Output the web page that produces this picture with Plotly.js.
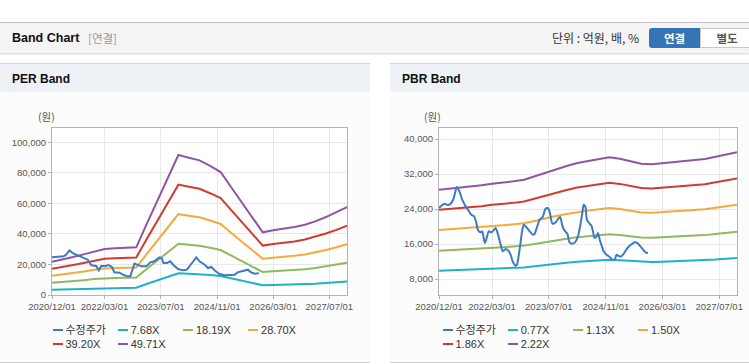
<!DOCTYPE html>
<html><head><meta charset="utf-8">
<script src="https://cdn.plot.ly/plotly-3.0.1.min.js"></script>
<style>
body{margin:0;width:749px;height:364px;overflow:hidden;background:#fff;position:relative;font-family:"Liberation Sans","Noto Sans CJK KR",sans-serif;}
#hdr{position:absolute;left:0;top:22px;width:749px;height:30px;background:#f4f4f4;border-top:1px solid #c4c4c4;box-shadow:0 1px 2px rgba(0,0,0,0.2);}
#hdr .t{position:absolute;left:12px;top:8px;font-size:12.5px;font-weight:bold;color:#111;}
#hdr .s{position:absolute;left:88px;top:8px;font-size:11.5px;color:#999;font-family:"Noto Sans CJK KR",sans-serif;line-height:15px;}
#hdr .u{position:absolute;left:552px;top:7px;font-size:12px;color:#333;font-family:"Noto Sans CJK KR",sans-serif;line-height:16px;}
#b1{position:absolute;left:649px;top:5px;width:51px;height:20px;background:#3574b6;border-radius:3px 0 0 3px;color:#fff;font-weight:bold;font-size:11.5px;text-align:center;line-height:20px;font-family:"Noto Sans CJK KR",sans-serif;}
#b2{position:absolute;left:700px;top:5px;width:52px;height:18px;background:#fff;border:1px solid #c8c8c8;color:#555;font-weight:bold;font-size:11.5px;text-align:center;line-height:18px;font-family:"Noto Sans CJK KR",sans-serif;}
.panel{position:absolute;top:63px;height:298px;background:#fcfcfc;border-top:1px solid #d6d6d6;border-bottom:1px solid #cfcfcf;}
.panel .ph{height:28px;background:#eef2f7;}
.panel .pt{position:absolute;left:12px;top:8px;font-size:12px;font-weight:bold;color:#111;}
.plot{position:absolute;top:100px;height:215px;}
.lg{position:absolute;font-size:11px;color:#333;line-height:14px;white-space:nowrap;font-family:"Liberation Sans","Noto Sans CJK KR",sans-serif;}
.lg .sw{display:inline-block;width:10px;height:2px;margin-right:3px;vertical-align:middle;position:relative;top:-1px;}
</style></head>
<body>
<div id="hdr"><span class="t">Band Chart</span><span class="s">[연결]</span><span class="u">단위 : 억원, 배, %</span><div id="b1">연결</div><div id="b2">별도</div></div>
<div class="panel" style="left:0;width:370px;"><div class="ph"></div><span class="pt">PER Band</span></div>
<div class="panel" style="left:390px;width:359px;"><div class="ph"></div><span class="pt">PBR Band</span></div>
<div id="per" class="plot" style="left:0;width:370px;"></div>
<div id="pbr" class="plot" style="left:390px;width:359px;"></div>
<script>
// ---------- data ----------
const bandDates = ['2020-12-01','2021-03-01','2021-06-01','2021-09-01','2021-12-01','2022-03-01','2022-06-01','2022-09-01','2022-12-01','2023-03-01','2023-06-01','2023-09-01','2023-12-01','2024-03-01','2024-06-01','2024-09-01','2024-12-01','2025-03-01','2025-06-01','2025-09-01','2025-12-01','2026-03-01','2026-06-01','2026-09-01','2026-12-01','2027-03-01','2027-06-01','2027-09-01','2027-12-01'];
const tickDates = ['2020-12-01','2022-03-01','2023-07-01','2024-11-01','2026-03-01','2027-07-01'];
const tickLabels = ['2020/12/01','2022/03/01','2023/07/01','2024/11/01','2026/03/01','2027/07/01'];
const priceName = '수정주가';
const seriesColors = ['#3c7ac6','#1fb2c6','#8fba5c','#f6a93b','#d33a2f','#9055a2'];

const perNames = ['7.68X','18.19X','28.70X','39.20X','49.71X'];
const per768  = [3370,3580,3850,4110,4420,4660,4720,4760,4820,7170,9500,11870,14170,13900,13630,13060,12450,10930,9390,7840,6340,6540,6680,6880,7120,7450,7890,8360,8900];
const per1819 = [7990,8470,9110,9740,10470,11030,11180,11260,11420,16980,22490,28120,33550,32910,32270,30940,29480,25880,22250,18570,15020,15500,15810,16300,16860,17650,18690,19810,21090];
const per2870 = [12600,13360,14370,15380,16510,17400,17650,17770,18020,26780,35490,44360,52940,51930,50920,48820,46510,40840,35100,29310,23700,24450,24950,25710,26590,27850,29490,31260,33270];
const per3920 = [17210,18250,19630,21000,22550,23760,24100,24270,24620,36580,48480,60600,72300,70930,69550,66680,63520,55780,47950,40030,32360,33400,34080,35120,36320,38040,40280,42690,45450];
const per4971 = [21830,23140,24890,26630,28600,30130,30560,30780,31220,46390,61470,76840,91690,89940,88190,84550,80550,70730,60800,50750,41040,42350,43220,44530,46060,48240,51080,54140,57630];
const perPriceDates = ['2020-12-01','2021-01-22','2021-03-10','2021-04-03','2021-05-01','2021-06-06','2021-07-13','2021-08-25','2021-10-07','2021-11-07','2021-12-19','2022-01-10','2022-02-01','2022-03-10','2022-04-04','2022-05-04','2022-05-25','2022-07-10','2022-08-13','2022-09-19','2022-10-10','2022-11-16','2022-12-16','2023-01-13','2023-02-27','2023-04-01','2023-05-07','2023-06-19','2023-07-10','2023-07-25','2023-08-25','2023-09-21','2023-10-19','2023-11-28','2024-01-10','2024-02-13','2024-03-28','2024-05-04','2024-06-01','2024-07-16','2024-08-13','2024-09-12','2024-10-19','2024-11-22','2025-01-04','2025-03-01','2025-04-01','2025-04-28','2025-06-13','2025-07-25','2025-08-22','2025-09-22','2025-10-28'];
const perPrice = [24670,24890,25320,26410,29250,27070,25760,24230,23140,19430,18990,16150,18990,18990,19650,18340,14840,14630,13100,12220,12220,20520,19430,18770,18770,21390,22050,24670,24010,20960,20960,22050,19650,17030,16150,16590,20960,24670,22050,19870,17680,18340,15500,13750,12880,13320,13320,14840,15500,16590,14840,13970,14190];

const pbrNames = ['0.77X','1.13X','1.50X','1.86X','2.22X'];
const pbr077 = [9860,9940,10020,10090,10200,10330,10410,10520,10650,10920,11230,11500,11730,11970,12130,12290,12420,12310,12110,11920,11870,11950,12030,12110,12180,12290,12470,12650,12820];
const pbr113 = [14470,14580,14700,14810,14970,15160,15280,15430,15630,16020,16480,16870,17220,17570,17800,18030,18230,18070,17770,17490,17410,17530,17650,17770,17880,18030,18300,18570,18810];
const pbr150 = [19200,19360,19510,19660,19870,20130,20290,20490,20740,21260,21880,22390,22860,23320,23630,23940,24200,23990,23580,23220,23120,23270,23430,23580,23730,23940,24300,24650,24970];
const pbr186 = [23810,24000,24200,24380,24640,24960,25150,25400,25720,26370,27130,27770,28350,28910,29300,29680,30000,29740,29240,28790,28660,28860,29050,29240,29430,29680,30130,30560,30960];
const pbr222 = [28420,28650,28880,29100,29410,29790,30020,30320,30700,31470,32380,33140,33830,34510,34970,35430,35810,35500,34900,34360,34210,34440,34670,34900,35120,35430,35960,36480,36950];
const pbrPriceDates = ['2020-12-01','2020-12-21','2021-01-18','2021-02-15','2021-03-10','2021-04-04','2021-05-03','2021-05-25','2021-06-18','2021-07-10','2021-08-06','2021-09-04','2021-09-28','2021-10-16','2021-11-01','2021-11-21','2021-12-07','2021-12-28','2022-01-10','2022-02-01','2022-02-24','2022-03-13','2022-04-01','2022-04-19','2022-05-10','2022-06-01','2022-06-25','2022-07-16','2022-08-07','2022-08-28','2022-09-19','2022-10-01','2022-10-22','2022-11-16','2022-11-28','2022-12-19','2023-01-18','2023-02-15','2023-03-01','2023-03-19','2023-04-13','2023-05-10','2023-06-01','2023-06-22','2023-07-07','2023-08-01','2023-08-28','2023-09-25','2023-10-07','2023-10-25','2023-11-13','2023-12-07','2023-12-25','2024-01-19','2024-02-10','2024-03-07','2024-03-28','2024-04-13','2024-04-25','2024-05-10','2024-05-22','2024-06-10','2024-07-01','2024-07-13','2024-07-28','2024-08-13','2024-08-25','2024-09-10','2024-09-28','2024-10-13','2024-11-07','2024-12-04','2025-01-04','2025-01-19','2025-02-01','2025-02-25','2025-03-13','2025-04-04','2025-04-25','2025-05-19','2025-06-13','2025-07-07','2025-07-28','2025-08-25','2025-09-16','2025-10-07','2025-10-28'];
const pbrPrice = [24230,24760,25220,24910,25220,26290,29030,28040,26130,24990,23850,22700,22320,20950,19120,18670,18890,16230,16990,18890,18670,19120,19660,18360,16230,14320,14860,14550,13560,11810,11050,11280,14550,19280,20420,19890,18890,18130,18290,19660,21560,22170,24000,24230,23470,20650,20950,21940,22170,20190,19050,18360,16380,16080,16380,17750,20420,23090,24990,24460,21560,20800,20190,18890,17370,17750,18510,16990,15470,14320,13560,13030,12270,12570,13560,13180,13180,13790,14700,15470,16000,16380,16230,15470,14700,14090,13940];

// ---------- drawing ----------
const FONT = '"Liberation Sans", "Noto Sans CJK KR", sans-serif';
function build(div, bands, names, priceX, priceY, priceShape, yRange, yDtick, yTick0, unitX, margin){
  const traces = [];
  bands.forEach((b,i)=>traces.push({x:bandDates,y:b,name:names[i],type:'scatter',mode:'lines',
    line:{color:seriesColors[i+1],width:2},hoverinfo:'skip'}));
  traces.push({x:priceX,y:priceY,name:priceName,type:'scatter',mode:'lines',
    line:{color:seriesColors[0],width:2,shape:priceShape,smoothing:0.6},hoverinfo:'skip'});
  const axisCommon = {showline:true,linecolor:'#b4b4b4',linewidth:1,mirror:true,
    gridcolor:'#e8e8e8',gridwidth:1,ticks:'outside',ticklen:3,tickcolor:'#b4b4b4',
    tickfont:{family:FONT,size:9.5,color:'#555'},zeroline:false,fixedrange:true};
  const layout = {
    width: margin.w, height:215,
    margin:{l:margin.l,r:margin.r,t:margin.t,b:margin.b,pad:0},
    paper_bgcolor:'rgba(0,0,0,0)', plot_bgcolor:'#ffffff',
    showlegend:false,
    xaxis:Object.assign({},axisCommon,{type:'date',range:['2020-12-01','2027-12-01'],
      tickmode:'array',tickvals:tickDates,ticktext:tickLabels}),
    yaxis:Object.assign({},axisCommon,{range:yRange,tickmode:'linear',tick0:yTick0,dtick:yDtick,
      tickformat:',d',ticklen:3}),
    annotations:[{text:'(원)',xref:'paper',yref:'paper',x:unitX,y:1.068,showarrow:false,
      xanchor:'center',yanchor:'middle',font:{family:'"Noto Sans CJK KR", sans-serif',size:10.5,color:'#555'}}]
  };
  Plotly.newPlot(div, traces, layout, {staticPlot:true,displayModeBar:false});
}
build('per',[per768,per1819,per2870,per3920,per4971],perNames,perPriceDates,perPrice,'linear',
  [0,109400],20000,0,-0.017,{w:370,l:52,r:23,t:28,b:20});
build('pbr',[pbr077,pbr113,pbr150,pbr186,pbr222],pbrNames,pbrPriceDates,pbrPrice,'spline',
  [4343,42514],8000,0,-0.021,{w:359,l:49,r:12,t:28,b:20});

// HTML legends
function legend(left, names){
  const all = [priceName].concat(names);
  all.forEach((n,i)=>{
    const col=i%4,row=Math.floor(i/4);
    const d=document.createElement('div');
    d.className='lg';
    d.style.left=(left+52.5+col*65.2)+'px';
    d.style.top=(row?337:323)+'px';
    d.innerHTML='<span class="sw" style="background:'+seriesColors[i]+'"></span>'+n;
    document.body.appendChild(d);
  });
}
legend(0, perNames);
legend(390, pbrNames);
</script>
</body></html>
